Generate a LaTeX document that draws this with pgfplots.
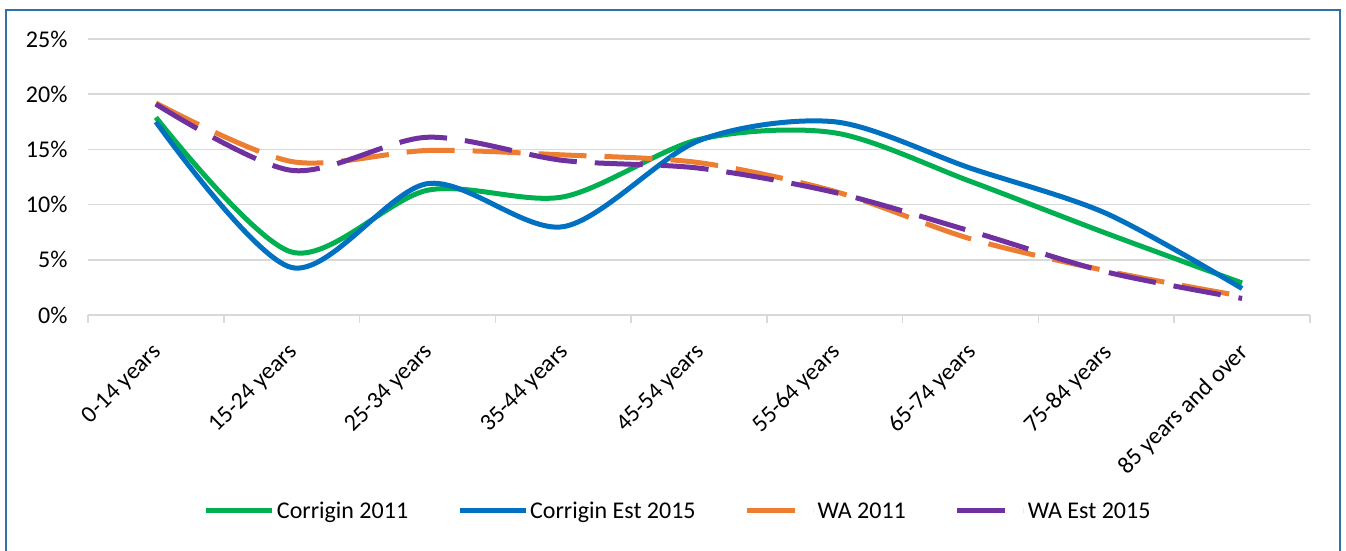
\documentclass[border=0pt]{standalone}
\usepackage{pgfplots}
\pgfplotsset{compat=1.18}
\usepackage{fontspec}
\setmainfont{Carlito}
\definecolor{cgreen}{HTML}{00B050}
\definecolor{cblue}{HTML}{0070C0}
\definecolor{corange}{HTML}{ED7D31}
\definecolor{cpurple}{HTML}{7030A0}
\definecolor{cframe}{RGB}{46,112,170}
\definecolor{cgrid}{HTML}{D9D9D9}
\begin{document}
\begin{tikzpicture}
\useasboundingbox (0pt,0pt) rectangle (1346pt,550pt);
\draw[cframe, line width=2pt] (6pt,-20pt) rectangle (1340pt,540pt);
\begin{axis}[
  at={(88pt,235pt)}, anchor=south west,
  scale only axis, width=1222pt, height=276pt,
  xmin=-0.5, xmax=8.5, ymin=0, ymax=25,
  axis x line*=bottom, axis y line*=left,
  y axis line style={draw=none},
  x axis line style={cgrid, line width=1.5pt},
  ytick={0,5,...,25},
  ytick style={draw=none},
  ymajorgrids, grid style={cgrid, line width=1.5pt},
  xtick={0,...,8},
  xticklabels={0-14 years,15-24 years,25-34 years,35-44 years,45-54 years,55-64 years,65-74 years,75-84 years,85 years and over},
  minor xtick={-0.5,0.5,...,8.5},
  major tick length=0pt, minor tick length=8pt,
  tick align=outside,
  xtick style={draw=none},
  minor x tick style={draw=cgrid, line width=1.5pt},
  /pgf/number format/assume math mode=true,
  yticklabel={\pgfmathprintnumber{\tick}\%},
  tick label style={font=\fontsize{24}{28}\selectfont, black},
  yticklabel style={xshift=-17pt},
  xticklabel style={rotate=45, anchor=north east, xshift=-19pt, yshift=-12pt},
  legend style={at={(0.483,-0.71)}, anchor=center, draw=none, fill=none,
    font=\fontsize{24}{28}\selectfont, legend columns=-1,
    /tikz/every even column/.append style={column sep=47pt}},
  legend cell align=left,
  legend image code/.code={\draw[#1] (0pt,0pt) -- (66pt,0pt);},
  every axis plot/.append style={line width=5pt, smooth, tension=0.5},
]
\addplot[cgreen] coordinates {(0,17.9) (1,5.7) (2,11.3) (3,10.7) (4,15.9) (5,16.5) (6,12.1) (7,7.4) (8,2.9)};
\addlegendentry{Corrigin 2011}
\addplot[cblue] coordinates {(0,17.5) (1,4.3) (2,11.9) (3,8.0) (4,15.8) (5,17.5) (6,13.3) (7,9.2) (8,2.4)};
\addlegendentry{Corrigin Est 2015}
\addplot[corange, dash pattern=on 48pt off 18pt] coordinates {(0,19.2) (1,13.9) (2,14.9) (3,14.5) (4,13.8) (5,11.2) (6,6.9) (7,4.0) (8,1.7)};
\addlegendentry{WA 2011}
\addplot[cpurple, dash pattern=on 48pt off 18pt] coordinates {(0,19.1) (1,13.1) (2,16.1) (3,14.0) (4,13.3) (5,11.1) (6,7.6) (7,3.9) (8,1.5)};
\addlegendentry{WA Est 2015}
\end{axis}
\end{tikzpicture}
\end{document}
